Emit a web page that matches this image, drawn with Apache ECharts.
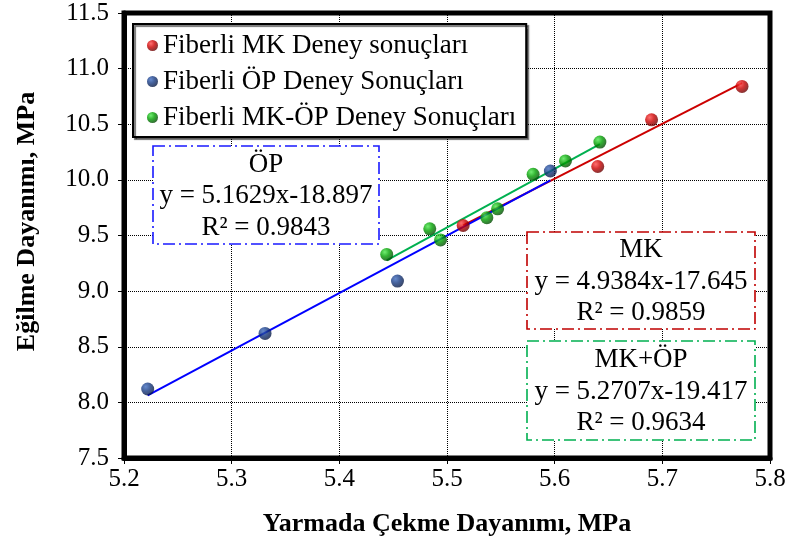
<!DOCTYPE html>
<html>
<head>
<meta charset="utf-8">
<script src="https://cdn.jsdelivr.net/npm/echarts@6/dist/echarts.min.js"></script>
<style>
  html, body { margin: 0; padding: 0; background: #fff; }
  #chart { width: 792px; height: 552px; }
</style>
</head>
<body>
<div id="chart"></div>
<script>
// ---- data ----
const seriesNames = ['Fiberli MK Deney sonuçları', 'Fiberli ÖP Deney Sonuçları', 'Fiberli MK-ÖP Deney Sonuçları'];

const mkX = [5.515, 5.640, 5.690, 5.774];
const mkY = [9.59, 10.12, 10.54, 10.84];

const opX = [5.222, 5.331, 5.454, 5.596];
const opY = [8.12, 8.62, 9.09, 10.08];

const mkopX = [5.444, 5.484, 5.494, 5.537, 5.547, 5.580, 5.610, 5.642];
const mkopY = [9.33, 9.56, 9.46, 9.66, 9.74, 10.05, 10.17, 10.34];

// trendline coefficients shown on the chart (slope, intercept)
const mkFit = [4.9384, -17.645];
const opFit = [5.1629, -18.897];
const mkopFit = [5.2707, -19.417];

const mkLabel = ['MK', 'y = 4.9384x-17.645', 'R² = 0.9859'];
const opLabel = ['ÖP', 'y = 5.1629x-18.897', 'R² = 0.9843'];
const mkopLabel = ['MK+ÖP', 'y = 5.2707x-19.417', 'R² = 0.9634'];

const xTicks = { min: 5.2, max: 5.8, step: 0.1 };
const yTicks = { min: 7.5, max: 11.5, step: 0.5 };

// ---- helpers ----
function pairs(xs, ys) { return xs.map((x, i) => [x, ys[i]]); }
function fitLine(xs, fit) {
  const lo = Math.min.apply(null, xs), hi = Math.max.apply(null, xs);
  return [[lo, fit[0] * lo + fit[1]], [hi, fit[0] * hi + fit[1]]];
}
function sphere(c0, c1, c2) {
  return {
    type: 'radial', x: 0.35, y: 0.32, r: 0.75,
    colorStops: [{ offset: 0, color: c0 }, { offset: 0.45, color: c1 }, { offset: 1, color: c2 }]
  };
}
const FONT = '"Liberation Serif", "Times New Roman", serif';

const redSphere = sphere('#ff4a4a', '#cc0000', '#5a0000');
const blueSphere = sphere('#3f6cc0', '#173a82', '#07153a');
const greenSphere = sphere('#4ee84e', '#00a000', '#033f03');

function box(x, y, w, h, color, lines) {
  return {
    type: 'group',
    children: [
      {
        type: 'rect',
        shape: { x: x, y: y, width: w, height: h },
        style: { fill: '#fff', stroke: color, lineWidth: 1.6, lineDash: [12, 4, 2, 4] },
        z: 10
      },
      {
        type: 'text',
        x: x + w / 2,
        y: y + h / 2 + 1,
        style: {
          text: lines.join('\n'),
          fontFamily: FONT, fontSize: 27, lineHeight: 31.5,
          fill: '#000', align: 'center', verticalAlign: 'middle'
        },
        z: 11
      }
    ]
  };
}

const chart = echarts.init(document.getElementById('chart'), null, { renderer: 'canvas' });

chart.setOption({
  animation: false,
  backgroundColor: '#fff',
  grid: {
    left: 124, right: 22, top: 13, bottom: 94,
    show: true, borderColor: '#000', borderWidth: 5, backgroundColor: 'transparent'
  },
  legend: {
    data: seriesNames,
    orient: 'vertical',
    left: 133, top: 24,
    padding: [8, 10, 6, 14],
    itemGap: 9,
    itemWidth: 11, itemHeight: 11,
    icon: 'circle',
    backgroundColor: '#fff',
    borderColor: '#000', borderWidth: 2,
    shadowColor: 'rgba(0,0,0,0.55)', shadowBlur: 1, shadowOffsetX: 2, shadowOffsetY: 2,
    textStyle: { fontFamily: FONT, fontSize: 27, color: '#000', lineHeight: 27 },
    z: 20
  },
  xAxis: {
    type: 'value',
    min: xTicks.min, max: xTicks.max, interval: xTicks.step,
    name: 'Yarmada Çekme Dayanımı, MPa',
    nameLocation: 'middle', nameGap: 53,
    nameTextStyle: { fontFamily: FONT, fontSize: 26, fontWeight: 'bold', color: '#000' },
    axisLine: { show: true, onZero: false, lineStyle: { color: '#000', width: 5 } },
    axisTick: { show: true, length: 6, lineStyle: { color: '#000', width: 1 } },
    axisLabel: {
      fontFamily: FONT, fontSize: 25, color: '#000', margin: 9,
      formatter: v => v.toFixed(1)
    },
    splitLine: { show: true, lineStyle: { color: '#000', type: [1, 1], width: 1 } }
  },
  yAxis: {
    type: 'value',
    min: yTicks.min, max: yTicks.max, interval: yTicks.step,
    name: 'Eğilme Dayanımı, MPa',
    nameLocation: 'middle', nameGap: 84,
    nameTextStyle: { fontFamily: FONT, fontSize: 26, fontWeight: 'bold', color: '#000', padding: [0, 0, 0, 28] },
    axisLine: { show: true, onZero: false, lineStyle: { color: '#000', width: 5 } },
    axisTick: { show: true, length: 6, lineStyle: { color: '#000', width: 1 } },
    axisLabel: {
      fontFamily: FONT, fontSize: 25, color: '#000', margin: 15,
      formatter: v => v.toFixed(1)
    },
    splitLine: { show: true, lineStyle: { color: '#000', type: [1, 1], width: 1 } }
  },
  series: [
    {
      type: 'line', name: 'MK trend', data: fitLine(mkX, mkFit),
      showSymbol: false, symbol: 'none', silent: true,
      lineStyle: { color: '#cc0000', width: 2 }, z: 3
    },
    {
      type: 'line', name: 'MK-ÖP trend', data: fitLine(mkopX, mkopFit),
      showSymbol: false, symbol: 'none', silent: true,
      lineStyle: { color: '#00b050', width: 2 }, z: 3
    },
    {
      type: 'line', name: 'ÖP trend', data: fitLine(opX, opFit),
      showSymbol: false, symbol: 'none', silent: true,
      lineStyle: { color: '#0000ff', width: 2 }, z: 4
    },
    {
      type: 'scatter', name: seriesNames[0], data: pairs(mkX, mkY),
      symbol: 'circle', symbolSize: 13,
      itemStyle: { color: redSphere }, z: 6
    },
    {
      type: 'scatter', name: seriesNames[1], data: pairs(opX, opY),
      symbol: 'circle', symbolSize: 13,
      itemStyle: { color: blueSphere }, z: 6
    },
    {
      type: 'scatter', name: seriesNames[2], data: pairs(mkopX, mkopY),
      symbol: 'circle', symbolSize: 13,
      itemStyle: { color: greenSphere }, z: 7
    }
  ],
  graphic: [
    box(153, 146, 226, 98, '#1a1aff', opLabel),
    box(527, 232, 228, 97, '#c00000', mkLabel),
    box(527, 341, 228, 99, '#00b050', mkopLabel)
  ]
});
</script>
</body>
</html>
